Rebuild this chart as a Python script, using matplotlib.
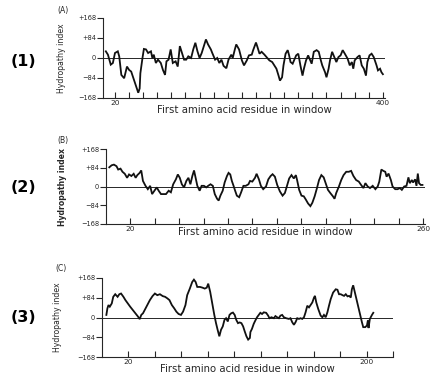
import matplotlib
matplotlib.use("Agg")
import matplotlib.pyplot as plt

# ---------------------------------------------------------------
# hydropathy profiles, values
# (A)
res_a = [7, 10, 14, 17, 20, 24, 26, 29, 33, 37, 40, 43, 47, 51, 53, 55, 56, 59,
         61, 64, 67, 71, 73, 75, 78, 81, 85, 88, 91, 93, 96, 99, 102, 106, 109,
         112, 115, 118, 121, 124, 128, 131, 134, 137, 140, 143, 146, 149, 152,
         156, 158, 162, 165, 168, 171, 174, 178, 181, 185, 187, 190, 192, 196,
         200, 203, 207, 210, 214, 216, 220, 222, 225, 228, 232, 235, 239, 243,
         246, 249, 252, 254, 257, 259, 262, 265, 267, 269, 272, 274, 277, 280,
         283, 286, 288, 291, 294, 296, 299, 302, 306, 309, 312, 314, 318, 320,
         323, 325, 328, 331, 334, 337, 340, 343, 346, 350, 353, 356, 358, 360,
         364, 367, 370, 373, 376, 378, 381, 384, 387, 391, 393, 396, 398, 400]
hyd_a = [28, 14, -28, -21, 21, 28, 7, -71, -85, -36, -50, -57, -92, -128, -146,
         -128, -64, 0, 38, 36, 21, 28, 0, 14, -21, -7, -21, -50, -71, -14, -7,
         36, -21, -14, -36, 50, 21, -7, -7, 7, 0, 36, 64, 28, 0, 21, 50, 78, 57,
         36, 21, -7, 0, -21, -7, -33, -43, -7, 14, 0, 36, 57, 36, -10, -31, -10,
         11, 14, 33, 65, 47, 18, 26, 14, 4, -10, -17, -31, -45, -74, -95, -81,
         -31, 18, 33, 11, -17, -24, -10, 11, 18, -31, -74, -45, -10, 11, -3, -24,
         26, 33, 26, -10, -31, -60, -81, -45, -10, 26, 4, -17, 4, 11, 33, 18, -3,
         -31, -17, -45, -10, 4, 11, -31, -45, -74, -17, 11, 18, 4, -31, -52, -45,
         -60, -68]

# (B)
res_b = [2.7, 4.6, 6.5, 8.6, 10, 11.9, 13.5, 15.4, 17.3, 18.9, 20.8, 22.7, 24.3,
         25.7, 27.6, 28.9, 30.3, 32.4, 34.3, 36.2, 37.8, 39.7, 41.6, 43.2, 45.1,
         47, 49.2, 51.4, 53.2, 55.1, 57.3, 58.9, 60.5, 62.2, 64, 65.9, 67.6,
         69.2, 70.8, 72.2, 73.5, 74.9, 76.8, 78.4, 80.3, 82.2, 83.8, 85.7, 87.6,
         89.2, 91.1, 92.4, 93.8, 95.7, 97.3, 99.2, 100.5, 101.9, 103.2, 104.6,
         105.9, 107.3, 109.2, 110.8, 112.7, 114.6, 116.8, 118.1, 120, 122.2,
         123.5, 125.4, 127, 128.9, 131.2, 133.1, 135, 136.6, 138.5, 140.4, 142.6,
         144.8, 146.7, 148.6, 150.2, 152.1, 154, 155.7, 156.7, 158.4, 160.3,
         162.2, 163.8, 165.7, 167.6, 169.2, 171.1, 173, 174.7, 176.6, 178.5,
         180.1, 182, 183.9, 186.1, 187.4, 188.8, 191, 192.9, 194.8, 197, 199.1,
         201, 202.9, 205.1, 207.3, 209.2, 211.1, 212.7, 214.6, 216.5, 218.7,
         220.9, 222.8, 224.1, 225.8, 227.4, 229, 230.1, 231.7, 233.6, 235, 237.2,
         239.1, 241, 242.6, 244.5, 246.4, 248, 249.1, 250.8, 251.8, 253.5, 254.6,
         255.7, 256.7, 258.1, 259.5]
hyd_b = [86, 95, 98, 91, 76, 80, 66, 57, 39, 54, 47, 57, 39, 51, 61, 72, 25, 3,
         -12, 3, -34, -19, -4, -19, -34, -34, -34, -19, -26, 10, 32, 54, 39, 10,
         -4, 25, 39, 10, 47, 72, 39, 3, -19, 3, 3, -4, 3, 10, 3, -34, -55, -63,
         -41, -19, 18, 47, 61, 54, 25, 3, -19, -41, -48, -26, 3, 3, 10, 25, 22,
         39, 57, 32, 3, -12, 0, 32, 47, 55, 44, 7, -22, -41, -29, 7, 36, 51, 36,
         51, 29, -15, -41, -44, -58, -76, -88, -73, -44, -7, 29, 51, 41, 15, -15,
         -29, -44, -55, -29, 0, 29, 51, 66, 66, 70, 47, 29, 22, 7, -7, 15, 0, -7,
         3, -12, 0, 22, 76, 70, 66, 44, 58, 29, 0, -12, -12, -7, -15, 0, 3, 41,
         15, 29, 18, 32, 3, 58, 15, 7, 7]

# (C)
res_c = [3.3, 4.1, 4.9, 5.9, 7.4, 8.5, 10, 11.8, 13.1, 14.4, 16.2, 17.7, 19.5,
         21.3, 23.3, 25.4, 27.2, 28.5, 29.7, 31, 32.3, 33.6, 34.9, 36.2, 38.2,
         40, 41.8, 43.8, 45.9, 47.7, 49.5, 51, 52.8, 54.6, 56.2, 57.9, 59.7,
         61.3, 63.1, 64.4, 66.4, 68.2, 69.5, 70.8, 72, 74.1, 75.9, 77.7, 79.2,
         80.3, 81.8, 83.6, 84.9, 86.2, 87.4, 88.7, 90, 91.3, 92.6, 93.8, 95.1,
         96.4, 97.7, 99, 100.3, 101.5, 102.8, 104.1, 105.4, 106.7, 107.9, 109.2,
         110.5, 111.8, 112.2, 113.4, 114.7, 115.9, 117.2, 118.5, 119.7, 121,
         122.3, 124.1, 125.6, 126.6, 128.1, 129.9, 131.1, 132.4, 133.7, 134.9,
         136.2, 137.5, 139.2, 141.3, 142.5, 143.8, 145.1, 146.3, 147.6, 148.9,
         150.1, 151.4, 152.7, 153.9, 155.2, 156.5, 157.7, 159, 160.3, 161, 162,
         163.5, 165.3, 166.6, 167.8, 169.1, 170.4, 171.6, 172.9, 174.7, 176.7,
         178, 179.2, 180.5, 181.8, 183, 184.3, 185.6, 186.8, 188.1, 188.9, 189.9,
         190.9, 192.4, 193.9, 194.9, 196.5, 197.5, 199, 200.3, 201, 201.5, 202.5,
         204.1, 205.1]
hyd_c = [11, 39, 53, 46, 60, 88, 99, 88, 99, 102, 88, 74, 60, 46, 32, 18, 4, -7,
         11, 18, 32, 46, 60, 74, 91, 102, 95, 99, 91, 88, 81, 74, 53, 39, 25, 15,
         11, 25, 53, 95, 123, 151, 161, 151, 130, 130, 127, 123, 127, 144, 109,
         53, 11, -24, -52, -80, -52, -38, -10, -3, -17, 11, 18, 21, 11, -10, -24,
         -21, -24, -38, -59, -80, -94, -87, -62, -48, -27, -13, 1, 11, 20, 15, 22,
         20, 8, -3, 1, -3, 6, 1, -3, 8, 11, 1, -3, -6, -3, -20, -31, -20, -3, -6,
         -3, -6, 1, 22, 50, 43, 53, 64, 85, 92, 64, 36, 8, 1, 11, 1, 22, 50, 78,
         106, 120, 118, 99, 99, 95, 92, 99, 90, 92, 85, 120, 137, 113, 78, 43, 15,
         -20, -41, -41, -34, -13, -45, -6, 11, 20]

ytick_vals = [-168, -84, 0, 84, 168]
ytick_text = ["\u2212168", "\u221284", "0", "+84", "+168"]

panel_tags = ["(A)", "(B)", "(C)"]
side_tags = ["(1)", "(2)", "(3)"]
xlabel_text = "First amino acid residue in window"
ylabel_text = "Hydropathy index"

# ---------------------------------------------------------------
W, H = 435., 380.
fig = plt.figure(figsize=(W / 100, H / 100), dpi=100)
ink = "#262626"

# pixel boxes (left, top, right, bottom), x limits, ticks, labelled ticks
panels = [
    dict(res=res_a, hyd=hyd_a, box=(103, 18, 385, 98), xlim=(3, 403),
         ticks=list(range(20, 401, 20)), lab=(20, 400), ylx=62, xly=110, tag=(63, 10), side=61),
    dict(res=res_b, hyd=hyd_b, box=(106, 149, 425.5, 224), xlim=(0, 262),
         ticks=list(range(20, 261, 20)), lab=(20, 260), ylx=63, xly=232, tag=(63, 140), side=188),
    dict(res=res_c, hyd=hyd_c, box=(102, 278, 393, 357), xlim=(0, 220),
         ticks=list(range(20, 221, 20)), lab=(20, 200), ylx=58, xly=369, tag=(61, 268), side=317),
]

for i, p in enumerate(panels):
    l, t, r, b = p["box"]
    ax = fig.add_axes([l / W, 1 - b / H, (r - l) / W, (b - t) / H])
    ax.plot(p["res"], p["hyd"], color="#111111", lw=1.3, solid_joinstyle="miter")
    ax.axhline(0, color=ink, lw=0.7, zorder=0)

    ax.set_xlim(p["xlim"])
    ax.set_ylim(-168, 168)
    ax.spines['top'].set_visible(False)
    ax.spines['right'].set_visible(False)
    for s in ['left', 'bottom']:
        ax.spines[s].set_color(ink)
        ax.spines[s].set_linewidth(0.8)

    ax.set_yticks(ytick_vals)
    ax.set_yticklabels(ytick_text)
    ax.set_xticks(p["ticks"])
    ax.set_xticklabels([str(v) if v in p["lab"] else "" for v in p["ticks"]])
    ax.tick_params(axis='y', direction='out', length=4, width=0.8, color=ink,
                   labelsize=4.8, labelcolor=ink, pad=1)
    ax.tick_params(axis='x', direction='in', length=4, width=0.8, color=ink,
                   labelsize=5.3, labelcolor=ink, pad=1.5)

    ax.set_xlabel(xlabel_text, fontsize=7.3, color=ink, va='center')
    ax.xaxis.set_label_coords(0.5, (b - p["xly"]) / (b - t))
    ax.set_ylabel(ylabel_text, fontsize=5.6, color=ink, va='center',
                  fontweight='bold' if i == 1 else 'normal')
    ax.yaxis.set_label_coords((p["ylx"] - l) / (r - l), 0.5)

    fig.text(p["tag"][0] / W, 1 - p["tag"][1] / H, panel_tags[i], fontsize=5.5,
             color=ink, ha='center', va='center')
    fig.text(23 / W, 1 - p["side"] / H, side_tags[i], fontsize=11.5,
             fontweight='bold', color='black', ha='center', va='center')

plt.savefig("out.png", dpi=100)
